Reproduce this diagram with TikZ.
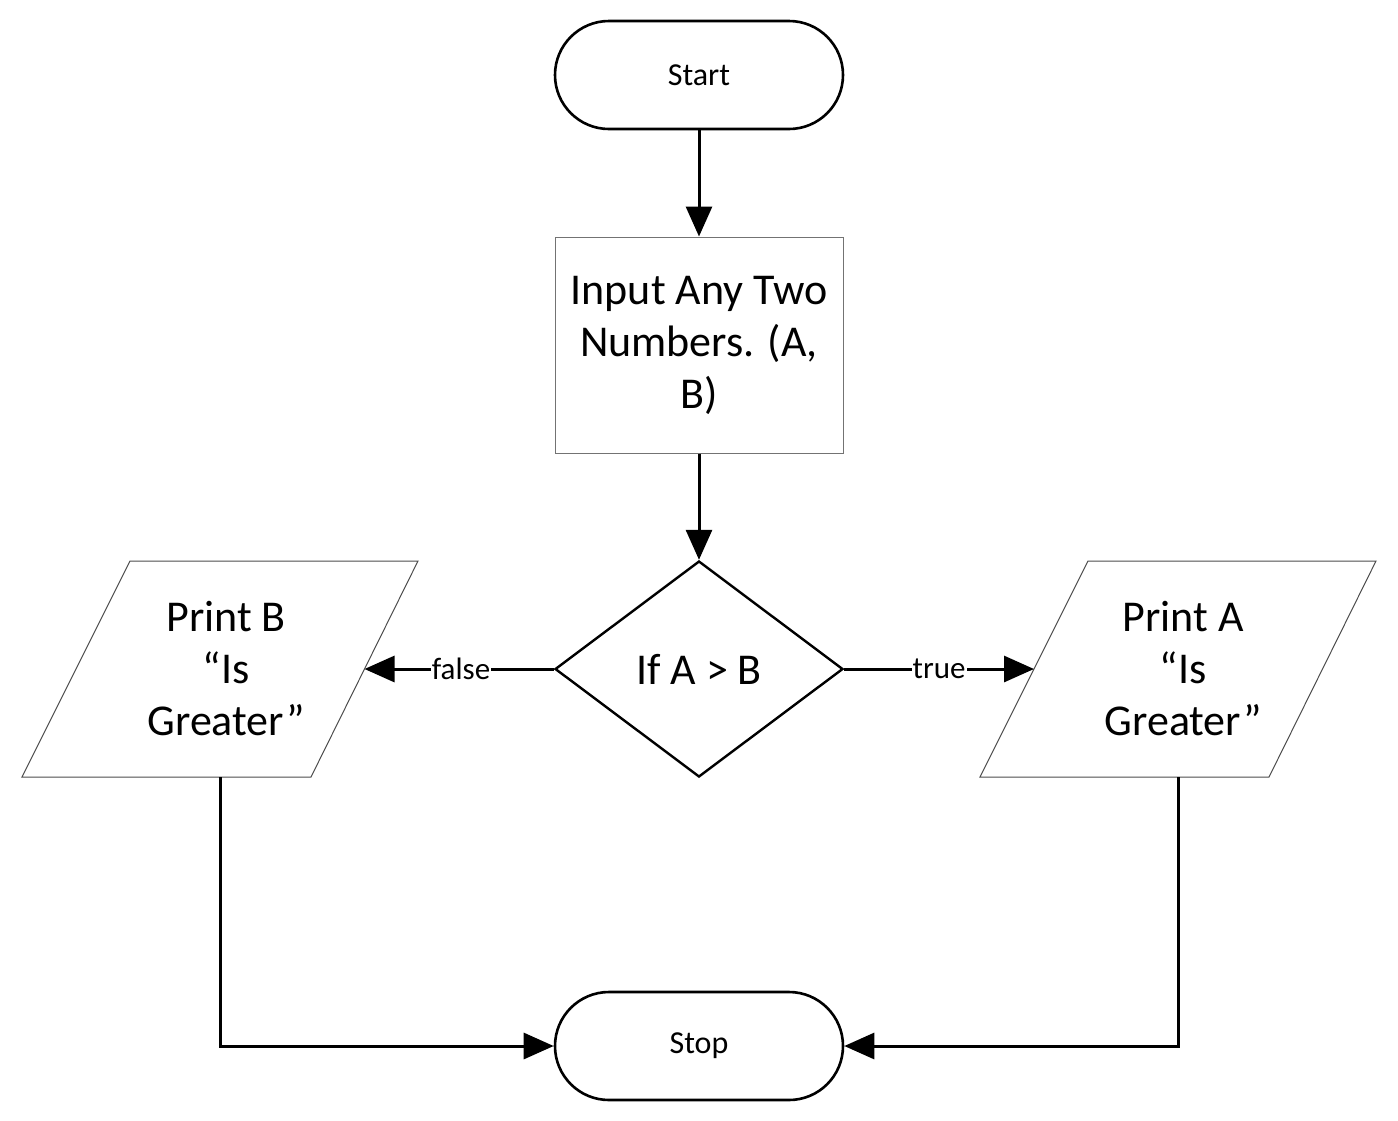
\documentclass[tikz,border=0pt]{standalone}
\usepackage{fontspec}
\setmainfont{Carlito}
\usetikzlibrary{shapes.geometric,arrows.meta}
\begin{document}
\begin{tikzpicture}[x=1pt,y=-1pt,
  term/.style={draw=black, line width=2.6pt, rectangle, rounded corners=54pt, minimum width=288pt, minimum height=108pt, inner sep=0pt, font=\fontsize{32}{36}\selectfont},
  procbox/.style={draw=black!55, line width=1pt, rectangle, minimum width=288pt, minimum height=216pt, inner sep=0pt, align=center, font=\fontsize{44}{52}\selectfont},
  decis/.style={draw=black, line width=2.4pt, diamond, minimum width=288pt, minimum height=216pt, inner sep=0pt, font=\fontsize{44}{50}\selectfont},
  para/.style={draw=black!70, line width=1pt},
  ptext/.style={align=center, font=\fontsize{44}{52}\selectfont},
  conn/.style={line width=3pt, -{Triangle[length=30pt,width=26pt]}},
  lbl/.style={fill=white, inner sep=1pt, font=\fontsize{31}{34}\selectfont}
]
\useasboundingbox (0,0) rectangle (1398,1120);
\node[term] (start) at (699,75) {Start};
\node[procbox] (input) at (699,345) {Input Any Two\\Numbers. (A,\\B)};
\node[decis] (dec) at (699,669) {If A > B};
\node[term] (stop) at (699,1046) {Stop};
% parallelograms
\draw[para] (130,561) -- (418,561) -- (311,777) -- (22,777) -- cycle;
\draw[para] (1088,561) -- (1376,561) -- (1269,777) -- (980,777) -- cycle;
\node[ptext] (pb) at (226,669) {Print B\\“Is\\Greater”};
\node[ptext] (pa) at (1183,669) {Print A\\“Is\\Greater”};
\coordinate (pbin) at (364.5,669);
\coordinate (pain) at (1034,669);
\coordinate (pbout) at (220,777);
\coordinate (paout) at (1178,777);
% connectors
\draw[conn] (start.south) -- (input.north);
\draw[conn] (input.south) -- (dec.north);
\draw[conn] (dec.west) -- node[lbl, pos=0.49] {false} (pbin);
\draw[conn] (dec.east) -- node[lbl, pos=0.5] {true} (pain);
\draw[conn] (pbout) |- (stop.west);
\draw[conn] (paout) |- (stop.east);
\end{tikzpicture}
\end{document}
